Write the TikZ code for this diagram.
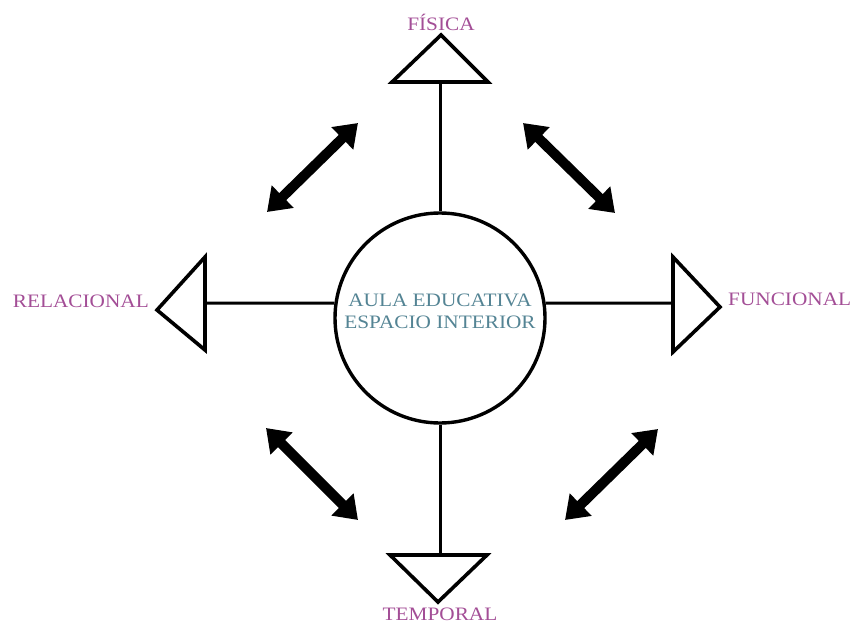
\documentclass[tikz,border=0pt]{standalone}
\usepackage{fontspec}
\setmainfont{Liberation Serif}[FakeStretch=1.12]
\usepackage{xcolor}
\usepackage{tikz}
\usetikzlibrary{arrows.meta, positioning}

\definecolor{labelpink}{RGB}{163,78,150}
\definecolor{aulateal}{RGB}{84,132,148}

\tikzset{
  tri/.style={draw=black, line width=3.6pt, line join=miter, fill=white},
  link/.style={draw=black, line width=3pt},
  dblarrow/.style={line width=10pt, {Triangle[length=22pt,width=30pt]}-{Triangle[length=22pt,width=30pt]}},
  lbl/.style={font=\fontsize{19}{22}\selectfont, text=labelpink, inner sep=0pt}
}

\begin{document}
\begin{tikzpicture}[x=1pt, y=-1pt]
  \useasboundingbox (0,0) rectangle (850,626);

  % ---- Centre circle ----
  \node[circle, draw, line width=3.4pt, minimum size=210pt, inner sep=0pt] (aula) at (440,318) {};
  \node[align=center, text=aulateal, font=\fontsize{19}{22}\selectfont, inner sep=0pt] (aulatext) at (440,311)
    {AULA EDUCATIVA\\ESPACIO INTERIOR};

  % ---- Triangles ----
  \draw[tri] (392,82) -- (488,82) -- (441,35) -- cycle;    % top
  \draw[tri] (390,555) -- (487,555) -- (438,602) -- cycle; % bottom
  \draw[tri] (205,257) -- (205,350) -- (157,310) -- cycle; % left
  \draw[tri] (673,257) -- (673,352) -- (720,307) -- cycle; % right
  \coordinate (fisbase) at (440,82);
  \coordinate (tembase) at (440,555);
  \coordinate (relbase) at (205,303);
  \coordinate (funbase) at (673,303);

  % ---- Links ----
  \draw[link] (aula.north) -- (fisbase);
  \draw[link] (aula.south) -- (tembase);
  \draw[link] (aula.172) -- (relbase);
  \draw[link] (aula.8) -- (funbase);

  % ---- Labels ----
  \node[lbl] (fisica) at (441,22) {FÍSICA};
  \node[lbl] (temporal) at (440,614) {TEMPORAL};
  \node[lbl, anchor=east] (relacional) at (149,301) {RELACIONAL};
  \node[lbl, anchor=west] (funcional) at (728,299) {FUNCIONAL};

  % ---- Double arrows ----
  \coordinate (ula) at (267,212); \coordinate (ulb) at (358,123);
  \coordinate (ura) at (523,123); \coordinate (urb) at (615,213);
  \coordinate (lla) at (266,428); \coordinate (llb) at (358,520);
  \coordinate (lra) at (565,520); \coordinate (lrb) at (658,429);
  \draw[dblarrow] (ula) -- (ulb);
  \draw[dblarrow] (ura) -- (urb);
  \draw[dblarrow] (lla) -- (llb);
  \draw[dblarrow] (lra) -- (lrb);
\end{tikzpicture}
\end{document}
